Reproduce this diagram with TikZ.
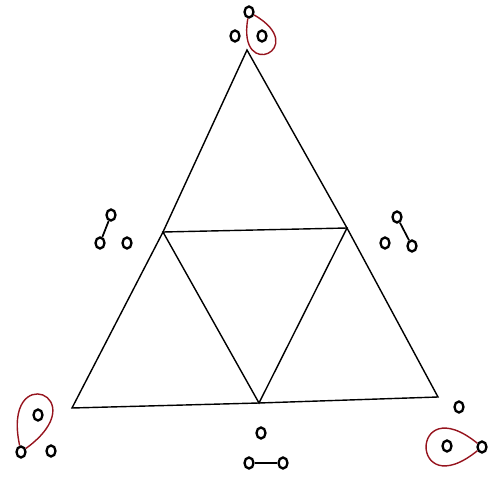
\documentclass[tikz,border=0pt]{standalone}
\usepackage{tikz}
\usetikzlibrary{shapes,arrows,positioning,calc}
\definecolor{loopred}{RGB}{150,20,30}
\tikzstyle{dot} = [draw, ellipse, line width=1.3pt, minimum width=0.18cm, minimum height=0.22cm, inner sep=0pt]
\tikzstyle{edge} = [line width=0.8pt]
\tikzstyle{bond} = [line width=1pt]
\tikzstyle{lobe} = [draw=loopred, line width=0.8pt]

\begin{document}
\begin{tikzpicture}[x=0.02cm, y=-0.02cm]
    \useasboundingbox (0,0) rectangle (498,477);
    % Corners
    \coordinate (apex) at (247,50);
    \coordinate (bl) at (72,408);
    \coordinate (br) at (438,397);
    \coordinate (ml) at (163,232);
    \coordinate (mr) at (347,228);
    \coordinate (mb) at (259,403);

    % Triangle
    \draw [edge] (apex) -- (ml) -- (bl) -- (mb) -- (br) -- (mr) -- cycle;
    \draw [edge] (ml) -- (mr) -- (mb) -- cycle;

    % Top
    \node [dot] (t1) at (249,12) {};
    \node [dot] (t2) at (235,36) {};
    \node [dot] (t3) at (262,36) {};
    % Left
    \node [dot] (l1) at (111,215) {};
    \node [dot] (l2) at (100,243) {};
    \node [dot] (l3) at (127,243) {};
    % Right
    \node [dot] (r1) at (397,217) {};
    \node [dot] (r2) at (385,243) {};
    \node [dot] (r3) at (412,246) {};
    % Bottom left
    \node [dot] (a1) at (38,415) {};
    \node [dot] (a2) at (21,452) {};
    \node [dot] (a3) at (51,451) {};
    % Bottom right
    \node [dot] (b1) at (459,407) {};
    \node [dot] (b2) at (447,446) {};
    \node [dot] (b3) at (482,447) {};
    % Bottom
    \node [dot] (c1) at (261,433) {};
    \node [dot] (c2) at (249,463) {};
    \node [dot] (c3) at (283,463) {};

    % Bonds
    \draw [bond] (l1) -- (l2);
    \draw [bond] (r1) -- (r3);
    \draw [bond] (c2) -- (c3);

    % Lobes
    \draw [lobe] (t1) .. controls +(30:72) and +(100:72) .. (t1);
    \draw [lobe] (a2) .. controls +(-102:95) and +(-36:95) .. (a2);
    \draw [lobe] (b3) .. controls +(141:94) and +(219:94) .. (b3);
\end{tikzpicture}
\end{document}
